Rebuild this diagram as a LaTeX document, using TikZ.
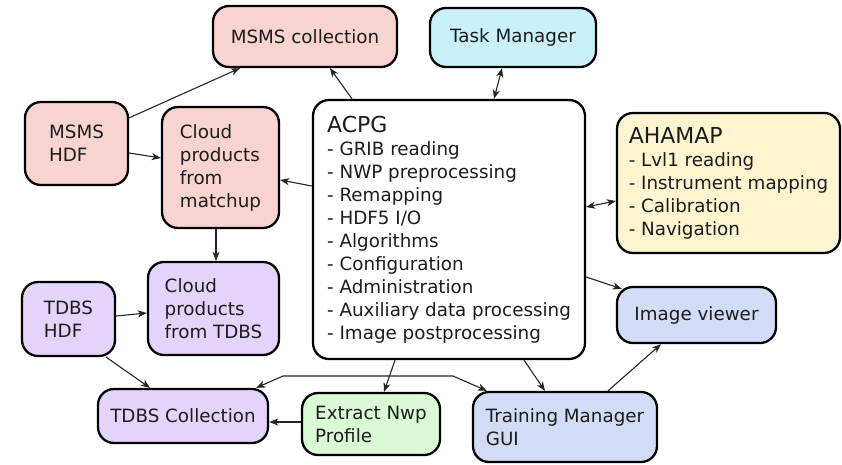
\documentclass[tikz,border=0pt]{standalone}
\usepackage{fontspec}
\setmainfont{DejaVu Sans}
\usetikzlibrary{arrows.meta}
\definecolor{cpink}{HTML}{F8D3D0}
\definecolor{ccyan}{HTML}{C9F1FC}
\definecolor{cyell}{HTML}{FCF5CF}
\definecolor{cpurp}{HTML}{E4D4FB}
\definecolor{cgreen}{HTML}{D9FAD4}
\definecolor{cblue}{HTML}{D2DCF7}
\definecolor{ctext}{HTML}{1C1C1C}
\tikzset{
  box/.style={draw=black, line width=2.3pt, rounded corners=16pt, inner sep=0pt,
    align=left, text=ctext, font=\fontsize{18.3}{23}\selectfont},
  conn/.style={draw=black!85, line width=1.1pt, -{Stealth[length=9pt,width=7pt,inset=2.5pt]}},
  dconn/.style={draw=black!85, line width=1.1pt, {Stealth[length=9pt,width=7pt,inset=2.5pt]}-{Stealth[length=9pt,width=7pt,inset=2.5pt]}}
}
\begin{document}
\begin{tikzpicture}[x=1pt,y=-1pt]
\useasboundingbox[fill=white] (0,0) rectangle (842,464);
% nodes
\node[box, fill=cpink, minimum width=184pt, minimum height=61pt] (msmscoll) at (305,36.5) {MSMS collection};
\node[box, fill=ccyan, minimum width=166pt, minimum height=59pt] (task) at (513,37.5) {Task Manager};
\node[box, fill=cpink, minimum width=103pt, minimum height=83pt] (msmshdf) at (76.5,143.5) {MSMS\\HDF};
\node[box, fill=cpink, minimum width=117pt, minimum height=121pt] (cloudm) at (220.5,167.5) {Cloud\\products\\from\\matchup};
\node[box, fill=white, minimum width=272pt, minimum height=259pt] (acpg) at (449,229.5)
  {{\fontsize{22}{25}\selectfont ACPG}\\- GRIB reading\\- NWP preprocessing\\- Remapping\\- HDF5 I/O\\- Algorithms\\- Configuration\\- Administration\\- Auxiliary data processing\\- Image postprocessing};
\node[box, fill=cyell, minimum width=223pt, minimum height=140pt] (ahamap) at (728.5,183)
  {{\fontsize{22}{25}\selectfont AHAMAP}\\- Lvl1 reading\\- Instrument mapping\\- Calibration\\- Navigation};
\node[box, fill=cblue, minimum width=159pt, minimum height=56pt] (imgv) at (696.5,315) {Image viewer};
\node[box, fill=cpurp, minimum width=93pt, minimum height=74pt] (tdbshdf) at (68.5,319) {TDBS\\HDF};
\node[box, fill=cpurp, minimum width=131pt, minimum height=93pt] (cloudt) at (213.5,308.5) {Cloud\\products\\from TDBS};
\node[box, fill=cpurp, minimum width=170pt, minimum height=54pt] (tdbscoll) at (183,416) {TDBS Collection};
\node[box, fill=cgreen, minimum width=138pt, minimum height=62pt] (extract) at (371,424) {Extract Nwp\\Profile};
\node[box, fill=cblue, minimum width=184pt, minimum height=70pt] (train) at (565,427) {Training Manager\\GUI};
\coordinate (b1) at (283,376);
\coordinate (b2) at (453,376);
% connectors
\draw[conn] ([yshift=-17pt]msmshdf.north east) -- ([xshift=-65pt]msmscoll.south);
\draw[conn] ([xshift=-97pt]acpg.north) -- ([xshift=25pt]msmscoll.south);
\draw[dconn] ([xshift=-11pt]task.south) -- ([xshift=45pt]acpg.north);
\draw[conn] ([yshift=-9.5pt]msmshdf.east) -- ([yshift=9.5pt]cloudm.west);
\draw[conn] ([yshift=43.5pt]acpg.west) -- ([yshift=-12.5pt]cloudm.east);
\draw[dconn] ([yshift=-18pt]ahamap.west) -- ([yshift=22.5pt]acpg.east);
\draw[conn] ([xshift=-4.5pt]cloudm.south) -- ([xshift=2.5pt]cloudt.north);
\draw[conn] ([yshift=3pt]tdbshdf.east) -- ([yshift=-4.5pt]cloudt.west);
\draw[conn] ([xshift=-10pt]tdbshdf.south east) -- ([xshift=-33pt]tdbscoll.north);
\draw[conn] ([yshift=2pt]extract.west) -- ([yshift=-6pt]tdbscoll.east);
\draw[conn] ([xshift=-54pt]acpg.south) -- ([xshift=13pt]extract.north);
\draw[conn] ([xshift=75pt]acpg.south) -- ([xshift=-20pt]train.north);
\draw[conn] ([yshift=-47.5pt]acpg.east) -- ([xshift=6pt,yshift=-3pt]imgv.north west);
\draw[conn] ([xshift=43pt]train.north) -- ([xshift=-35.5pt]imgv.south);
\draw[dconn] ([xshift=-13pt]tdbscoll.north east) -- (b1) -- (b2) -- ([xshift=15pt]train.north west);
\end{tikzpicture}
\end{document}
